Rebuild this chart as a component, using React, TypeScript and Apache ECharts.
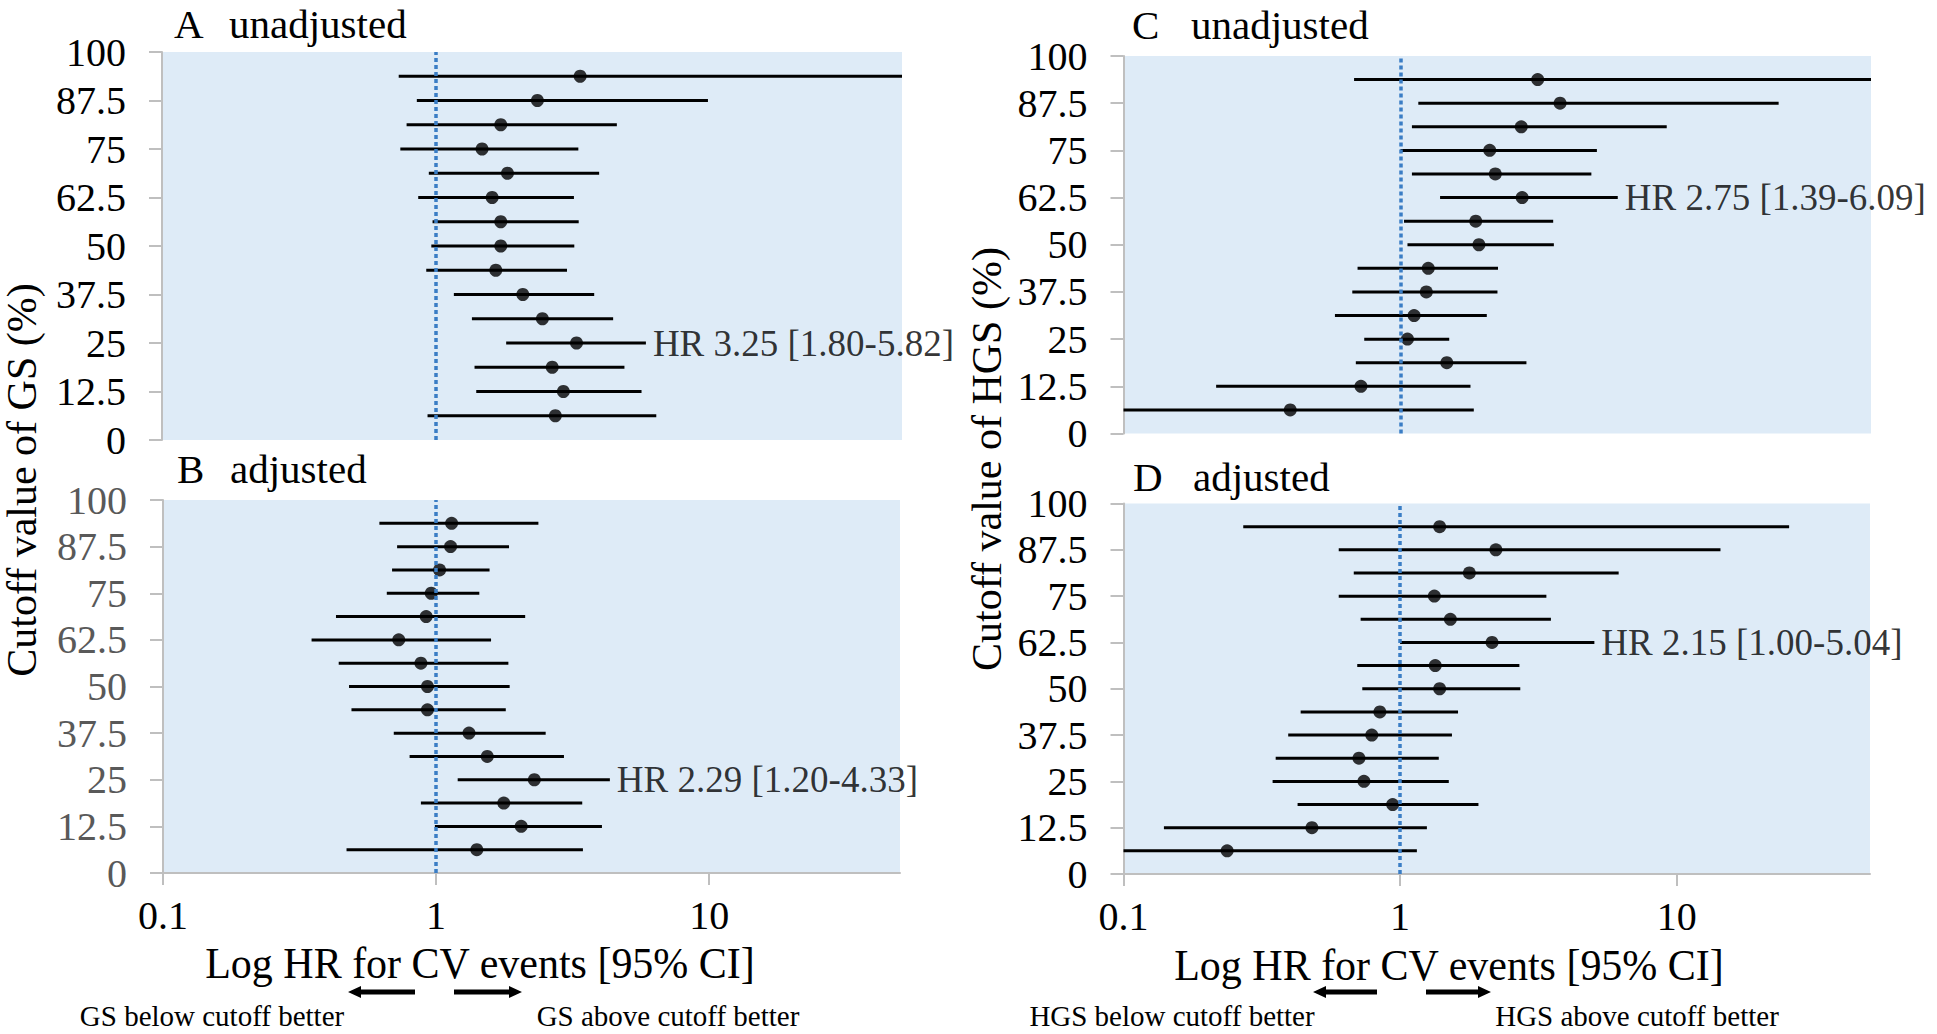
import React, { useEffect, useRef } from "react";
import * as echarts from "echarts";

// ---------- data ----------
const cutoffs = [93.75, 87.5, 81.25, 75, 68.75, 62.5, 56.25, 50, 43.75, 37.5, 31.25, 25, 18.75, 12.5, 6.25];
const xTickValues = [0.1, 1, 10];
const referenceHR = 1;

// Panel A: GS unadjusted
const hrA = [3.35, 2.34, 1.72, 1.47, 1.82, 1.6, 1.72, 1.72, 1.65, 2.07, 2.44, 3.25, 2.65, 2.91, 2.72];
const loA = [0.73, 0.85, 0.78, 0.74, 0.94, 0.86, 0.97, 0.96, 0.92, 1.16, 1.35, 1.8, 1.38, 1.4, 0.93];
const hiA = [50, 9.8, 4.56, 3.3, 3.93, 3.18, 3.31, 3.19, 3.0, 3.77, 4.42, 5.82, 4.86, 5.61, 6.35];

// Panel B: GS adjusted
const hrB = [1.14, 1.13, 1.03, 0.96, 0.92, 0.73, 0.88, 0.93, 0.93, 1.32, 1.54, 2.29, 1.77, 2.05, 1.41];
const loB = [0.62, 0.72, 0.69, 0.66, 0.43, 0.35, 0.44, 0.48, 0.49, 0.7, 0.8, 1.2, 0.88, 0.99, 0.47];
const hiB = [2.37, 1.85, 1.57, 1.44, 2.12, 1.59, 1.84, 1.86, 1.8, 2.52, 2.94, 4.33, 3.43, 4.05, 3.45];

// Panel C: HGS unadjusted
const hrC = [3.13, 3.77, 2.73, 2.1, 2.2, 2.75, 1.87, 1.92, 1.26, 1.24, 1.12, 1.06, 1.47, 0.72, 0.4];
const loC = [0.68, 1.16, 1.1, 1.0, 1.1, 1.39, 1.03, 1.06, 0.7, 0.67, 0.58, 0.74, 0.69, 0.216, 0.1];
const hiC = [50, 23.2, 9.15, 5.12, 4.89, 6.09, 3.56, 3.58, 2.25, 2.24, 2.05, 1.5, 2.85, 1.79, 1.84];

// Panel D: HGS adjusted
const hrD = [1.39, 2.22, 1.78, 1.33, 1.52, 2.15, 1.34, 1.39, 0.845, 0.79, 0.71, 0.74, 0.94, 0.48, 0.237];
const loD = [0.271, 0.6, 0.68, 0.6, 0.72, 1.0, 0.7, 0.73, 0.437, 0.394, 0.355, 0.346, 0.426, 0.14, 0.1];
const hiD = [25.5, 14.4, 6.17, 3.38, 3.51, 5.04, 2.7, 2.72, 1.62, 1.54, 1.38, 1.5, 1.92, 1.25, 1.15];

const panelLetters = ["A", "B", "C", "D"];
const panelSubtitles = ["unadjusted", "adjusted", "unadjusted", "adjusted"];
const labelRows = [11, 11, 5, 5];
const yAxisTitles = ["Cutoff value of GS (%)", "Cutoff value of HGS (%)"];
const xAxisTitle = "Log HR for CV events [95% CI]";
const belowTexts = ["GS below cutoff better", "HGS below cutoff better"];
const aboveTexts = ["GS above cutoff better", "HGS above cutoff better"];

// ---------- style / layout ----------
const FONT = "'Liberation Serif', 'Times New Roman', serif";
const BG = "#deebf7";
const AXIS_GRAY = "#bfbfbf";

const layouts = [
  { left: 162, top: 52, width: 740, height: 388, showX: false, yColor: "#000", title: [174, 229, 24] },
  { left: 163, top: 500, width: 737, height: 373, showX: true, yColor: "#595959", title: [177, 230, 469] },
  { left: 1123.5, top: 56, width: 747.5, height: 377.5, showX: false, yColor: "#000", title: [1132, 1191, 25] },
  { left: 1123.5, top: 503.5, width: 746.5, height: 370.5, showX: true, yColor: "#000", title: [1133, 1193, 477] },
];

const panelData = [
  { hr: hrA, lo: loA, hi: hiA },
  { hr: hrB, lo: loB, hi: hiB },
  { hr: hrC, lo: loC, hi: hiC },
  { hr: hrD, lo: loD, hi: hiD },
];

const fmt = (v: number) => v.toFixed(2);

function arrow(tipX: number, tailX: number, y: number) {
  const dir = tailX > tipX ? 1 : -1;
  const hx = tipX + dir * 13;
  return {
    type: "polygon",
    shape: {
      points: [
        [tipX, y],
        [hx, y - 6],
        [hx, y - 2.5],
        [tailX, y - 2.5],
        [tailX, y + 2.5],
        [hx, y + 2.5],
        [hx, y + 6],
      ],
    },
    style: { fill: "#000" },
  };
}

function text(x: number, y: number, t: string, size: number, extra: any = {}) {
  return {
    type: "text",
    x,
    y,
    scaleY: extra.scaleY ?? 1.05,
    rotation: extra.rotation ?? 0,
    style: {
      text: t,
      fontFamily: FONT,
      fontSize: size,
      fill: "#000",
      align: extra.align ?? "left",
      verticalAlign: "middle",
    },
  };
}

function buildOption() {
  const grid: any[] = [];
  const xAxis: any[] = [];
  const yAxis: any[] = [];
  const series: any[] = [];

  layouts.forEach((l, i) => {
    const d = panelData[i];
    grid.push({
      left: l.left,
      top: l.top,
      width: l.width,
      height: l.height,
      show: true,
      backgroundColor: BG,
      borderWidth: 0,
    });
    xAxis.push({
      type: "log",
      gridIndex: i,
      logBase: 10,
      min: 0.1,
      max: 50,
      axisLine: { show: l.showX, lineStyle: { color: AXIS_GRAY, width: 2 } },
      axisTick: { show: l.showX, length: 12, lineStyle: { color: AXIS_GRAY, width: 2 }, customValues: xTickValues },
      axisLabel: {
        show: l.showX,
        customValues: xTickValues,
        formatter: (v: number) => String(Number(Number(v).toPrecision(3))),
        fontFamily: FONT,
        fontSize: 40,
        color: "#000",
        margin: 22,
      },
      splitLine: { show: false },
    });
    yAxis.push({
      type: "value",
      gridIndex: i,
      min: 0,
      max: 100,
      interval: 12.5,
      axisLine: { show: true, lineStyle: { color: AXIS_GRAY, width: 2 } },
      axisTick: { show: true, length: 13, lineStyle: { color: AXIS_GRAY, width: 2 } },
      axisLabel: { fontFamily: FONT, fontSize: 40, color: l.yColor, margin: 36 },
      splitLine: { show: false },
    });

    series.push({
      type: "custom",
      xAxisIndex: i,
      yAxisIndex: i,
      z: 2,
      data: cutoffs.map((c, j) => [d.lo[j], d.hi[j], c]),
      encode: { x: [0, 1], y: 2 },
      renderItem: (params: any, api: any) => {
        const y = api.value(2);
        const p1 = api.coord([api.value(0), y]);
        const p2 = api.coord([api.value(1), y]);
        return {
          type: "line",
          shape: { x1: p1[0], y1: p1[1], x2: p2[0], y2: p2[1] },
          style: { stroke: "#000", lineWidth: 3 },
        };
      },
    });

    series.push({
      type: "scatter",
      xAxisIndex: i,
      yAxisIndex: i,
      z: 3,
      symbol: "circle",
      symbolSize: 13,
      itemStyle: { color: "#000" },
      data: cutoffs.map((c, j) => [d.hr[j], c]),
      markLine: {
        silent: true,
        symbol: "none",
        label: { show: false },
        lineStyle: { color: "#3a7dc5", width: 3.5, type: [4, 3] },
        data: [{ xAxis: referenceHR }],
      },
    });

    const r = labelRows[i];
    series.push({
      type: "scatter",
      xAxisIndex: i,
      yAxisIndex: i,
      z: 4,
      symbolSize: 0,
      data: [[d.hi[r], cutoffs[r]]],
      label: {
        show: true,
        position: "right",
        distance: 7,
        fontFamily: FONT,
        fontSize: 37,
        color: "#000",
        formatter: () => `HR ${fmt(d.hr[r])} [${fmt(d.lo[r])}-${fmt(d.hi[r])}]`,
      },
    });
  });

  const graphic: any[] = [];
  layouts.forEach((l, i) => {
    const [lx, sx, ty] = l.title;
    graphic.push(text(lx, ty, panelLetters[i], 41, { scaleY: 1 }));
    graphic.push(text(sx, ty, panelSubtitles[i], 41, { scaleY: 1 }));
  });
  graphic.push(text(22, 480, yAxisTitles[0], 42, { rotation: Math.PI / 2, align: "center", scaleY: 1 }));
  graphic.push(text(987, 459, yAxisTitles[1], 42, { rotation: Math.PI / 2, align: "center", scaleY: 1 }));

  graphic.push(text(480, 963, xAxisTitle, 42, { align: "center" }));
  graphic.push(text(1449, 965, xAxisTitle, 42, { align: "center" }));

  graphic.push(arrow(348, 415, 992));
  graphic.push(arrow(522, 454, 992));
  graphic.push(arrow(1313, 1377, 992));
  graphic.push(arrow(1491, 1426, 992));

  graphic.push(text(212, 1016, belowTexts[0], 29, { align: "center" }));
  graphic.push(text(668, 1016, aboveTexts[0], 29, { align: "center" }));
  graphic.push(text(1172, 1016, belowTexts[1], 29, { align: "center" }));
  graphic.push(text(1637, 1016, aboveTexts[1], 29, { align: "center" }));

  return {
    animation: false,
    backgroundColor: "#ffffff",
    textStyle: { fontFamily: FONT },
    grid,
    xAxis,
    yAxis,
    series,
    graphic,
  };
}

export default function App() {
  const ref = useRef<HTMLDivElement>(null);
  useEffect(() => {
    if (!ref.current) return;
    const chart = echarts.init(ref.current, undefined, { renderer: "svg" });
    chart.setOption(buildOption() as any);
    return () => chart.dispose();
  }, []);
  return (
    <div
      ref={ref}
      style={{ position: "fixed", left: 0, top: 0, width: 1937, height: 1034, background: "#fff" }}
    />
  );
}
